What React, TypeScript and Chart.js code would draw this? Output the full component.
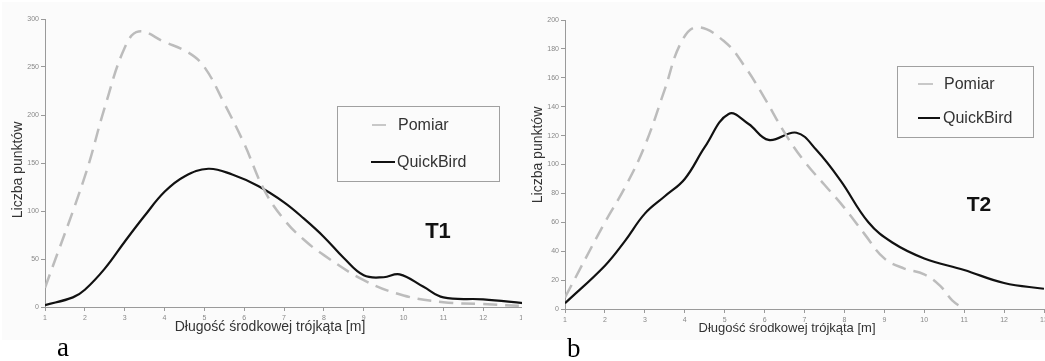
import React, { useEffect, useRef } from 'react';
import { Chart, registerables } from 'chart.js';
Chart.register(...registerables);

// ---- data ----
const xTicks = [1, 2, 3, 4, 5, 6, 7, 8, 9, 10, 11, 12, 13];
const yTicksA = [0, 50, 100, 150, 200, 250, 300];
const yTicksB = [0, 20, 40, 60, 80, 100, 120, 140, 160, 180, 200];

const pomiarAX = [1, 2, 2.5, 3, 3.35, 4, 4.6, 5, 5.5, 6, 6.5, 7, 7.5, 8, 9, 10, 11, 12, 13];
const pomiarAY = [20, 136, 208, 270, 287, 276, 265, 250, 212, 170, 122, 91, 70, 54, 28, 12, 5, 3, 1];

const quickAX = [1, 1.7, 2, 2.5, 3, 3.5, 4, 4.5, 5.1, 5.7, 6.35, 7, 7.5, 8, 8.5, 9, 9.5, 9.9, 10.5, 11, 12, 13];
const quickAY = [2, 10, 18, 40, 68, 95, 120, 136, 144, 138, 126, 109, 92, 73, 51, 33, 31, 34, 21, 10, 8, 4];

const pomiarBX = [1, 2, 2.5, 3, 3.5, 3.9, 4.3, 5, 5.5, 6, 6.5, 7, 7.5, 8, 8.5, 9, 9.5, 10, 10.4, 10.7, 11];
const pomiarBY = [8, 60, 84, 113, 152, 184, 195, 185, 168, 146, 122, 102, 86, 70, 52, 35, 28, 24, 16, 6, 0];

const quickBX = [1, 2, 2.5, 3, 3.5, 4, 4.5, 5.1, 5.6, 6.1, 6.8, 7.3, 7.9, 8.6, 9.2, 10, 11, 12, 13];
const quickBY = [4, 30, 47, 66, 78, 90, 112, 135, 128, 117, 122, 110, 89, 60, 46, 35, 27, 18, 14];

const seriesNames = ['Pomiar', 'QuickBird'];
const xTitle = 'Długość środkowej trójkąta [m]';
const yTitle = 'Liczba punktów';

const toPts = (xs: number[], ys: number[]) => xs.map((x, i) => ({ x, y: ys[i] }));

const TEXT = '#333';
const AXIS = '#9a9a9a';
const SANS = '"Liberation Sans", Arial, sans-serif';

type Annot = {
  box: [number, number, number, number];
  pomiar: [number, number, number, number];
  quick: [number, number, number, number];
  textX: number;
  legendFont: number;
  tag: string;
  tagX: number;
  tagY: number;
  tagFont: number;
  xTitleX: number;
  xTitleY: number;
  xTitleFont: number;
  yTitleX: number;
  yTitleY: number;
  yTitleFont: number;
  letter: string;
  letterX: number;
  letterY: number;
};

const annotPlugin = {
  id: 'annot',
  beforeDraw(chart: any) {
    const ctx = chart.ctx;
    ctx.save();
    ctx.fillStyle = '#fbfbfb';
    ctx.fillRect(2, 2, chart.width - 4, 338);
    ctx.restore();
  },
  afterDraw(chart: any) {
    const a: Annot = chart.options.plugins.annot;
    const ctx = chart.ctx;
    ctx.save();
    // legend
    ctx.strokeStyle = '#a0a0a0';
    ctx.lineWidth = 1;
    const [bx, by, bw, bh] = a.box;
    ctx.strokeRect(bx + 0.5, by + 0.5, bw, bh);
    ctx.lineWidth = 2;
    ctx.strokeStyle = '#c8c8c8';
    ctx.beginPath();
    ctx.moveTo(a.pomiar[0], a.pomiar[1]);
    ctx.lineTo(a.pomiar[2], a.pomiar[3]);
    ctx.stroke();
    ctx.strokeStyle = '#111';
    ctx.beginPath();
    ctx.moveTo(a.quick[0], a.quick[1]);
    ctx.lineTo(a.quick[2], a.quick[3]);
    ctx.stroke();
    ctx.fillStyle = TEXT;
    ctx.font = `${a.legendFont}px ${SANS}`;
    ctx.textBaseline = 'middle';
    ctx.textAlign = 'left';
    ctx.fillText(seriesNames[0], a.textX, a.pomiar[1] + 1);
    ctx.fillText(seriesNames[1], a.textX - 1, a.quick[1] + 1);
    // tag
    ctx.fillStyle = '#111';
    ctx.font = `bold ${a.tagFont}px ${SANS}`;
    ctx.textAlign = 'center';
    ctx.fillText(a.tag, a.tagX, a.tagY);
    // axis titles
    ctx.fillStyle = TEXT;
    ctx.font = `${a.xTitleFont}px ${SANS}`;
    ctx.fillText(xTitle, a.xTitleX, a.xTitleY);
    ctx.save();
    ctx.translate(a.yTitleX, a.yTitleY);
    ctx.rotate(-Math.PI / 2);
    ctx.font = `${a.yTitleFont}px ${SANS}`;
    ctx.fillText(yTitle, 0, 0);
    ctx.restore();
    // panel letter
    ctx.fillStyle = '#000';
    ctx.font = `27px "Liberation Serif", "Times New Roman", serif`;
    ctx.textAlign = 'left';
    ctx.textBaseline = 'alphabetic';
    ctx.fillText(a.letter, a.letterX, a.letterY);
    ctx.restore();
  },
};

function makeOptions(yMax: number, yTicks: number[], padRight: number, padTop: number, xHeight: number, annot: Annot) {
  return {
    animation: false,
    responsive: false,
    maintainAspectRatio: false,
    devicePixelRatio: 1,
    layout: { padding: { left: 0, top: padTop, right: padRight, bottom: 0 } },
    plugins: {
      legend: { display: false },
      tooltip: { enabled: false },
      annot,
    },
    elements: { point: { radius: 0 } },
    scales: {
      x: {
        type: 'linear',
        min: 1,
        max: 13,
        afterBuildTicks: (s: any) => {
          s.ticks = xTicks.map((v) => ({ value: v }));
        },
        afterFit: (s: any) => {
          s.height = xHeight;
        },
        grid: { drawOnChartArea: false, drawTicks: true, tickLength: 4, color: AXIS },
        border: { color: AXIS, width: 1 },
        ticks: { font: { size: 7, family: SANS }, color: '#888', padding: 3, autoSkip: false, maxRotation: 0 },
      },
      y: {
        min: 0,
        max: yMax,
        afterBuildTicks: (s: any) => {
          s.ticks = yTicks.map((v) => ({ value: v }));
        },
        afterFit: (s: any) => {
          s.width = 45;
        },
        grid: { drawOnChartArea: false, drawTicks: true, tickLength: 4, color: AXIS },
        border: { color: AXIS, width: 1 },
        ticks: { font: { size: 7, family: SANS }, color: '#888', padding: 2 },
      },
    },
  };
}

function datasets(px: number[], py: number[], qx: number[], qy: number[]) {
  return [
    {
      label: seriesNames[0],
      data: toPts(px, py),
      borderColor: '#bcbcbc',
      borderWidth: 2.5,
      borderDash: [14, 8],
      tension: 0.4,
      fill: false,
    },
    {
      label: seriesNames[1],
      data: toPts(qx, qy),
      borderColor: '#111',
      borderWidth: 2.2,
      tension: 0.4,
      fill: false,
    },
  ];
}

const annotA: Annot = {
  box: [337, 106, 162, 75],
  pomiar: [372, 125, 386, 125],
  quick: [371, 162, 395, 162],
  textX: 398,
  legendFont: 16,
  tag: 'T1',
  tagX: 438,
  tagY: 232,
  tagFont: 22,
  xTitleX: 270,
  xTitleY: 327,
  xTitleFont: 14,
  yTitleX: 18,
  yTitleY: 170,
  yTitleFont: 14,
  letter: 'a',
  letterX: 57,
  letterY: 356,
};

const annotB: Annot = {
  box: [377, 66, 136, 71],
  pomiar: [398, 84, 413, 84],
  quick: [398, 118, 420, 118],
  textX: 424,
  legendFont: 16,
  tag: 'T2',
  tagX: 459,
  tagY: 205,
  tagFont: 21,
  xTitleX: 267,
  xTitleY: 328,
  xTitleFont: 13,
  yTitleX: 18,
  yTitleY: 155,
  yTitleFont: 14,
  letter: 'b',
  letterX: 47,
  letterY: 357,
};

export default function App() {
  const refA = useRef<HTMLCanvasElement>(null);
  const refB = useRef<HTMLCanvasElement>(null);

  useEffect(() => {
    const cA = new Chart(refA.current as HTMLCanvasElement, {
      type: 'line',
      data: { datasets: datasets(pomiarAX, pomiarAY, quickAX, quickAY) as any },
      options: makeOptions(300, yTicksA, 5, 19, 54, annotA) as any,
      plugins: [annotPlugin],
    });
    const cB = new Chart(refB.current as HTMLCanvasElement, {
      type: 'line',
      data: { datasets: datasets(pomiarBX, pomiarBY, quickBX, quickBY) as any },
      options: makeOptions(200, yTicksB, 11, 20, 52, annotB) as any,
      plugins: [annotPlugin],
    });
    return () => {
      cA.destroy();
      cB.destroy();
    };
  }, []);

  return (
    <div style={{ position: 'fixed', left: 0, top: 0, width: 1045, height: 361, overflow: 'hidden', background: '#fff' }}>
      <canvas ref={refA} width={530} height={361} style={{ position: 'absolute', left: 0, top: 0, width: 530, height: 361 }} />
      <canvas ref={refB} width={535} height={361} style={{ position: 'absolute', left: 520, top: 0, width: 535, height: 361 }} />
    </div>
  );
}
